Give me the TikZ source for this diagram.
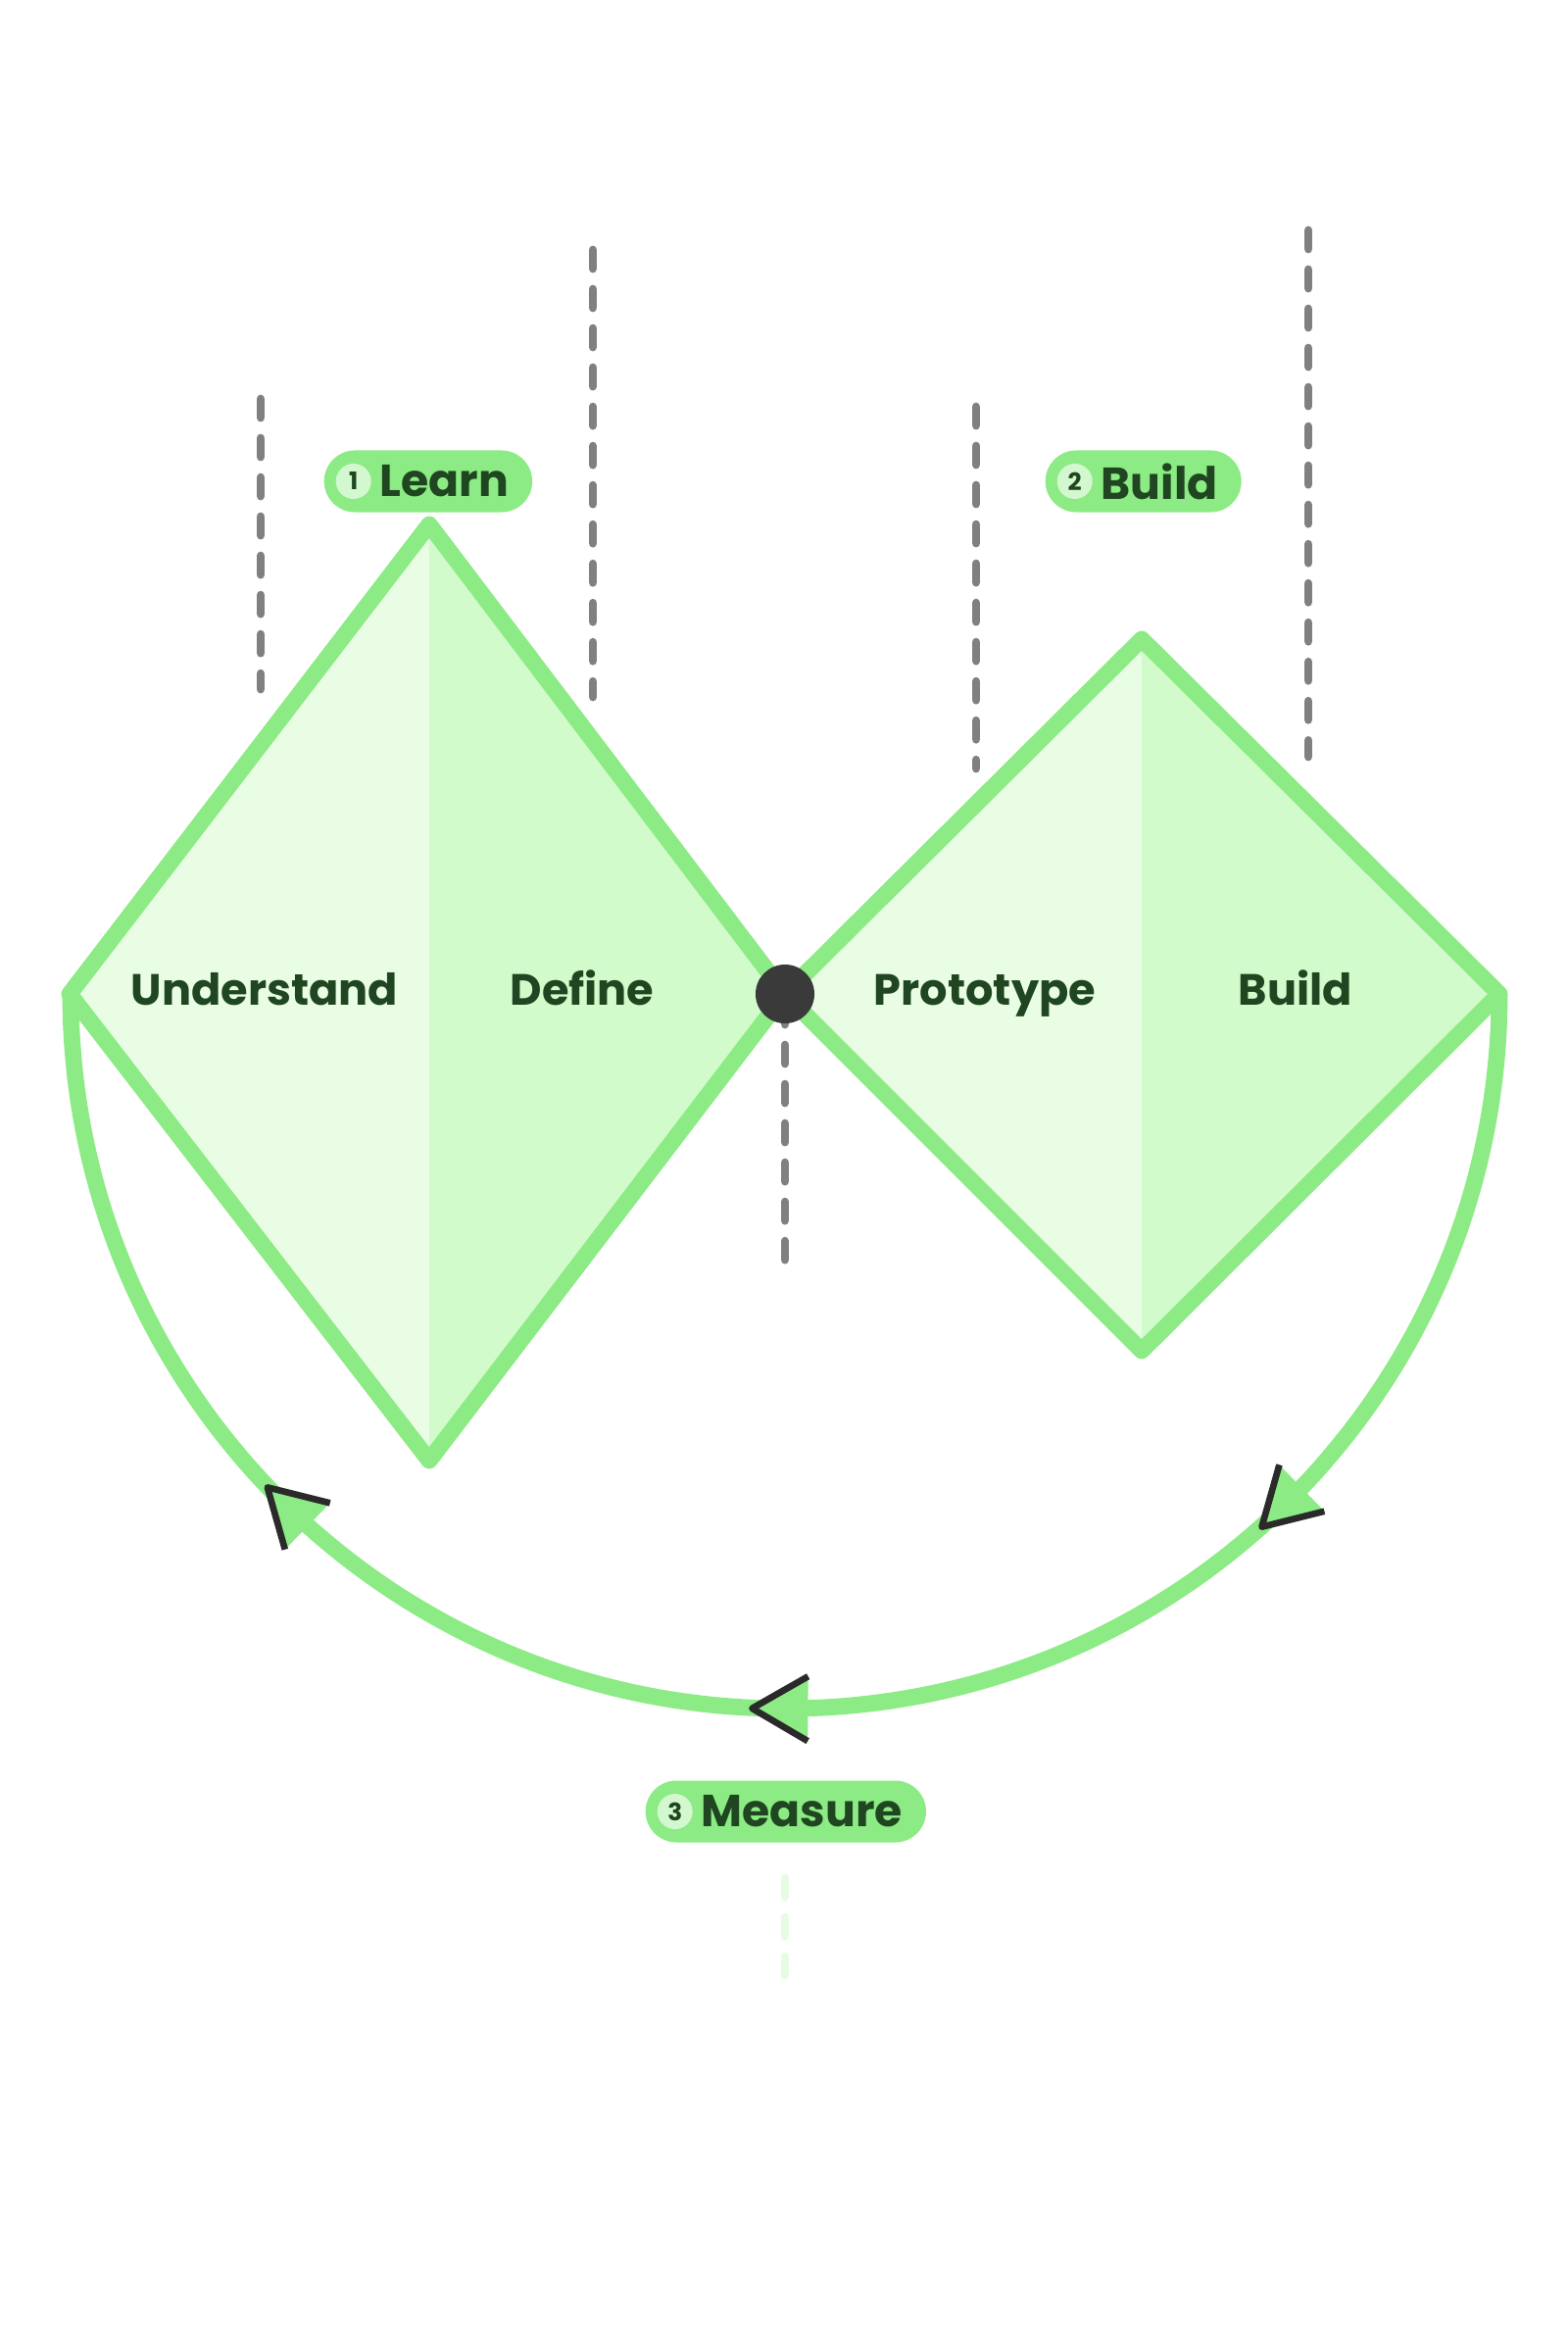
\documentclass[tikz,border=0pt]{standalone}
\usepackage{fontspec}
\setmainfont{Poppins}
\usetikzlibrary{positioning}
\usetikzlibrary{decorations.markings}

\definecolor{leafgreen}{HTML}{8CEB84}
\definecolor{halflight}{HTML}{E9FDE5}
\definecolor{halfdark}{HTML}{D1FBCB}
\definecolor{badgegreen}{HTML}{D3F8CF}
\definecolor{inkgreen}{HTML}{1F4620}
\definecolor{guidegray}{HTML}{808080}
\definecolor{fadedgreen}{HTML}{E6FCE3}
\definecolor{dotgray}{HTML}{3A3A3A}
\definecolor{headdark}{HTML}{2A2A2A}

\begin{document}
\begin{tikzpicture}[x=0.01cm, y=-0.01cm]

\useasboundingbox (0, 0) rectangle (1600, 2378);

\def\midline{1014}
\def\loopradius{729}

% guide lines

\tikzstyle{guide line} = [line width=2.5pt, color=guidegray, line cap=round, dash pattern=on 0.19cm off 0.21cm]

\draw [guide line] (266, 407) -- (266, 703) ;
\draw [guide line] (605, 255) -- (605, 711) ;
\draw [guide line] (996, 415) -- (996, 784) ;
\draw [guide line] (1335, 235) -- (1335, 772) ;
\draw [guide line] (801, 1026) -- (801, 1286) ;
\draw [guide line, color=fadedgreen] (801, 1916) -- (801, 2016) ;

% diamonds

\tikzstyle{diamond edge} = [line width=4.8pt, color=leafgreen, line join=round]

\coordinate (hinge) at (801, \midline) ;

\coordinate (learn top) at (438, 535) ;
\coordinate (learn left) at (71, \midline) ;
\coordinate (learn bottom) at (438, 1490) ;

\coordinate (build top) at (1165, 652) ;
\coordinate (build right) at (1530, \midline) ;
\coordinate (build bottom) at (1165, 1378) ;

\fill [color=halflight] (learn top) -- (learn left) -- (learn bottom) -- cycle ;
\fill [color=halfdark] (learn top) -- (hinge) -- (learn bottom) -- cycle ;
\draw [diamond edge] (learn top) -- (learn left) -- (learn bottom) -- (hinge) -- cycle ;

\fill [color=halflight] (build top) -- (hinge) -- (build bottom) -- cycle ;
\fill [color=halfdark] (build top) -- (build right) -- (build bottom) -- cycle ;
\draw [diamond edge] (build top) -- (hinge) -- (build bottom) -- (build right) -- cycle ;

% loop

\newcommand{\flowhead}{%
	\fill [color=leafgreen] (30, 0) -- (-28, 34) -- (-28, -34) -- cycle ;
	\draw [line width=1.9pt, color=headdark, line join=round] (-28, 33) -- (29, 0) -- (-28, -33) ;
}

\tikzstyle{loop line} = [line width=4.8pt, color=leafgreen, postaction={decorate},
	decoration={markings,
		mark=at position 0.255 with {\flowhead},
		mark=at position 0.502 with {\flowhead},
		mark=at position 0.745 with {\flowhead}}]

\draw [loop line] (build right) arc [start angle=0, end angle=180, radius=\loopradius] ;

% hinge

\node [shape=circle, fill=dotgray, minimum size=0.6cm, inner sep=0pt] (hinge dot) at (hinge) {} ;

% text

\tikzstyle{phase text} = [anchor=base, text=inkgreen, font=\fontsize{12.7}{15}\selectfont\bfseries, inner sep=0pt]
\tikzstyle{phase pill} = [anchor=west, fill=leafgreen, rounded corners=0.315cm, minimum height=0.63cm,
	inner xsep=0.24cm, inner ysep=0pt, text=inkgreen, font=\fontsize{13}{15}\selectfont\bfseries]
\tikzstyle{phase badge} = [shape=circle, fill=badgegreen, minimum size=0.36cm, inner sep=0pt,
	text=inkgreen, font=\fontsize{7}{8}\selectfont\bfseries]

\node [phase text] (understand) at (270, 1025) {Understand} ;
\node [phase text] (define) at (594, 1025) {Define} ;
\node [phase text] (prototype) at (1005, 1025) {Prototype} ;
\node [phase text] (build) at (1322, 1025) {Build} ;

\node [phase pill] (learn label) at (330, 491) {\hspace*{0.33cm}Learn} ;
\node [phase badge, right=0.12cm of learn label.west] (learn badge) {1} ;

\node [phase pill] (build label) at (1066, 491) {\hspace*{0.33cm}Build} ;
\node [phase badge, right=0.12cm of build label.west] (build badge) {2} ;

\node [phase pill] (measure label) at (658, 1848) {\hspace*{0.33cm}Measure} ;
\node [phase badge, right=0.12cm of measure label.west] (measure badge) {3} ;

\end{tikzpicture}
\end{document}
